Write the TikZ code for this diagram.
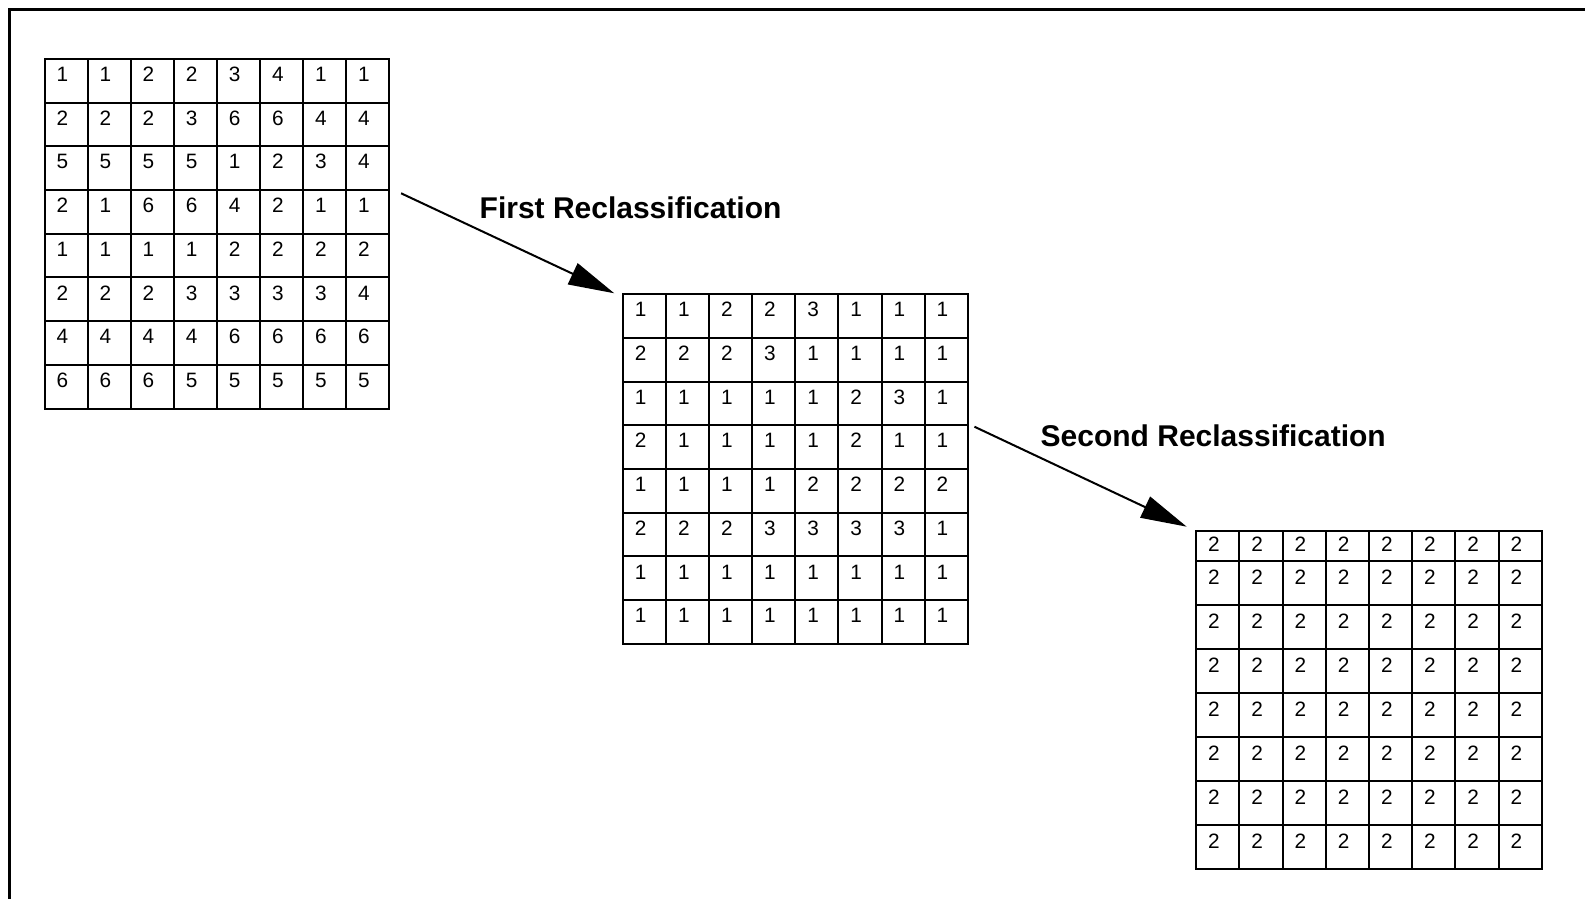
\documentclass[tikz,border=0pt]{standalone}
\usepackage{fontspec}
\setmainfont{Liberation Sans}
\usetikzlibrary{matrix,arrows.meta,calc}

\tikzset{
  cell/.style={draw, line width=2pt, outer sep=0pt, inner xsep=12pt, inner ysep=0pt,
    text width=19.1pt, align=left, text height=22.6pt, text depth=21.1pt,
    font=\fontsize{20.8}{24}\selectfont},
  grid/.style={matrix of nodes, anchor=north west, inner sep=0pt,
    column sep=-2pt, row sep=-2pt, nodes={cell}},
  conn/.style={line width=2pt, -{Triangle[length=46pt,width=23pt]}},
  steplabel/.style={anchor=base west, inner sep=0pt,
    font=\fontsize{30}{36}\selectfont\bfseries},
}

\begin{document}
\begin{tikzpicture}[x=1pt, y=-1pt]
  \useasboundingbox (0,0) rectangle (1585,899);

  % open frame along the top and left edges
  \draw[line width=3pt] (1600,9.3) -- (9.3,9.3) -- (9.3,910);

  % original classes
  \matrix (g1) [grid] at (43.3,57.7) {
    1 & 1 & 2 & 2 & 3 & 4 & 1 & 1 \\
    2 & 2 & 2 & 3 & 6 & 6 & 4 & 4 \\
    5 & 5 & 5 & 5 & 1 & 2 & 3 & 4 \\
    2 & 1 & 6 & 6 & 4 & 2 & 1 & 1 \\
    1 & 1 & 1 & 1 & 2 & 2 & 2 & 2 \\
    2 & 2 & 2 & 3 & 3 & 3 & 3 & 4 \\
    4 & 4 & 4 & 4 & 6 & 6 & 6 & 6 \\
    6 & 6 & 6 & 5 & 5 & 5 & 5 & 5 \\
  };

  % after the first reclassification
  \matrix (g2) [grid] at (621.7,293) {
    1 & 1 & 2 & 2 & 3 & 1 & 1 & 1 \\
    2 & 2 & 2 & 3 & 1 & 1 & 1 & 1 \\
    1 & 1 & 1 & 1 & 1 & 2 & 3 & 1 \\
    2 & 1 & 1 & 1 & 1 & 2 & 1 & 1 \\
    1 & 1 & 1 & 1 & 2 & 2 & 2 & 2 \\
    2 & 2 & 2 & 3 & 3 & 3 & 3 & 1 \\
    1 & 1 & 1 & 1 & 1 & 1 & 1 & 1 \\
    1 & 1 & 1 & 1 & 1 & 1 & 1 & 1 \\
  };

  % after the second reclassification (short first row)
  \matrix (g3) [grid, nodes={text width=19.2pt, text height=23.3pt, text depth=20.7pt},
    row 1/.style={nodes={text height=21pt, text depth=9.3pt}}] at (1195,529.7) {
    2 & 2 & 2 & 2 & 2 & 2 & 2 & 2 \\
    2 & 2 & 2 & 2 & 2 & 2 & 2 & 2 \\
    2 & 2 & 2 & 2 & 2 & 2 & 2 & 2 \\
    2 & 2 & 2 & 2 & 2 & 2 & 2 & 2 \\
    2 & 2 & 2 & 2 & 2 & 2 & 2 & 2 \\
    2 & 2 & 2 & 2 & 2 & 2 & 2 & 2 \\
    2 & 2 & 2 & 2 & 2 & 2 & 2 & 2 \\
    2 & 2 & 2 & 2 & 2 & 2 & 2 & 2 \\
  };

  % arrows between the stages
  \coordinate (a1s) at ($(g1.north east)+(10.6,135.6)$);
  \coordinate (a2s) at ($(g2.north east)+(5.5,133.7)$);
  \draw[conn] (a1s) -- ($(g2.north west)+(-7.4,0.3)$);
  \draw[conn] (a2s) -- ($(g3.north west)+(-8.3,-3)$);

  \node[steplabel] (l1) at (479.5,218.3) {First Reclassification};
  \node[steplabel] (l2) at (1040.5,446.7) {Second Reclassification};
\end{tikzpicture}
\end{document}
